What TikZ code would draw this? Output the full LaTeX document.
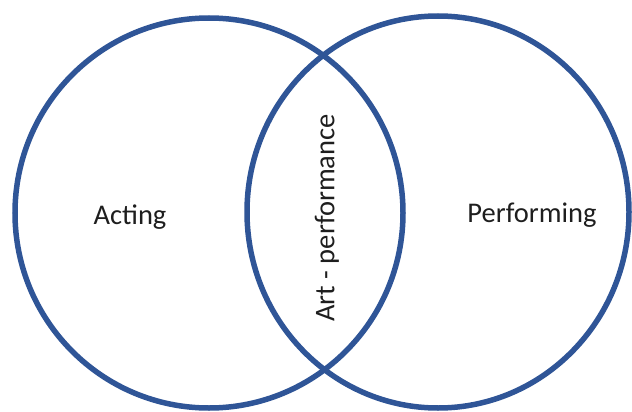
\documentclass[tikz,border=0pt]{standalone}
\usepackage{fontspec}
\setmainfont{Carlito}
\usepackage{tikz}
\definecolor{vennblue}{RGB}{47,85,151}
\definecolor{labelgray}{RGB}{30,30,30}

\begin{document}
\begin{tikzpicture}[x=1pt,y=-1pt]
\useasboundingbox (0,0) rectangle (632,412);
\begin{scope}[line width=5.5pt, draw=vennblue]
    \draw (209,213) ellipse [x radius=194, y radius=195];
    \draw (438,212) ellipse [x radius=191, y radius=196];
\end{scope}

\begin{scope}[every node/.style={text=labelgray, inner sep=0pt,
              font=\fontsize{28.5}{30}\selectfont}]
    \node (A) at (130,217) {Acting};
    \node (P) at (532,215) {Performing};
    \node[rotate=90] (AP) at (327,218) {Art - performance};
\end{scope}
\end{tikzpicture}
\end{document}
